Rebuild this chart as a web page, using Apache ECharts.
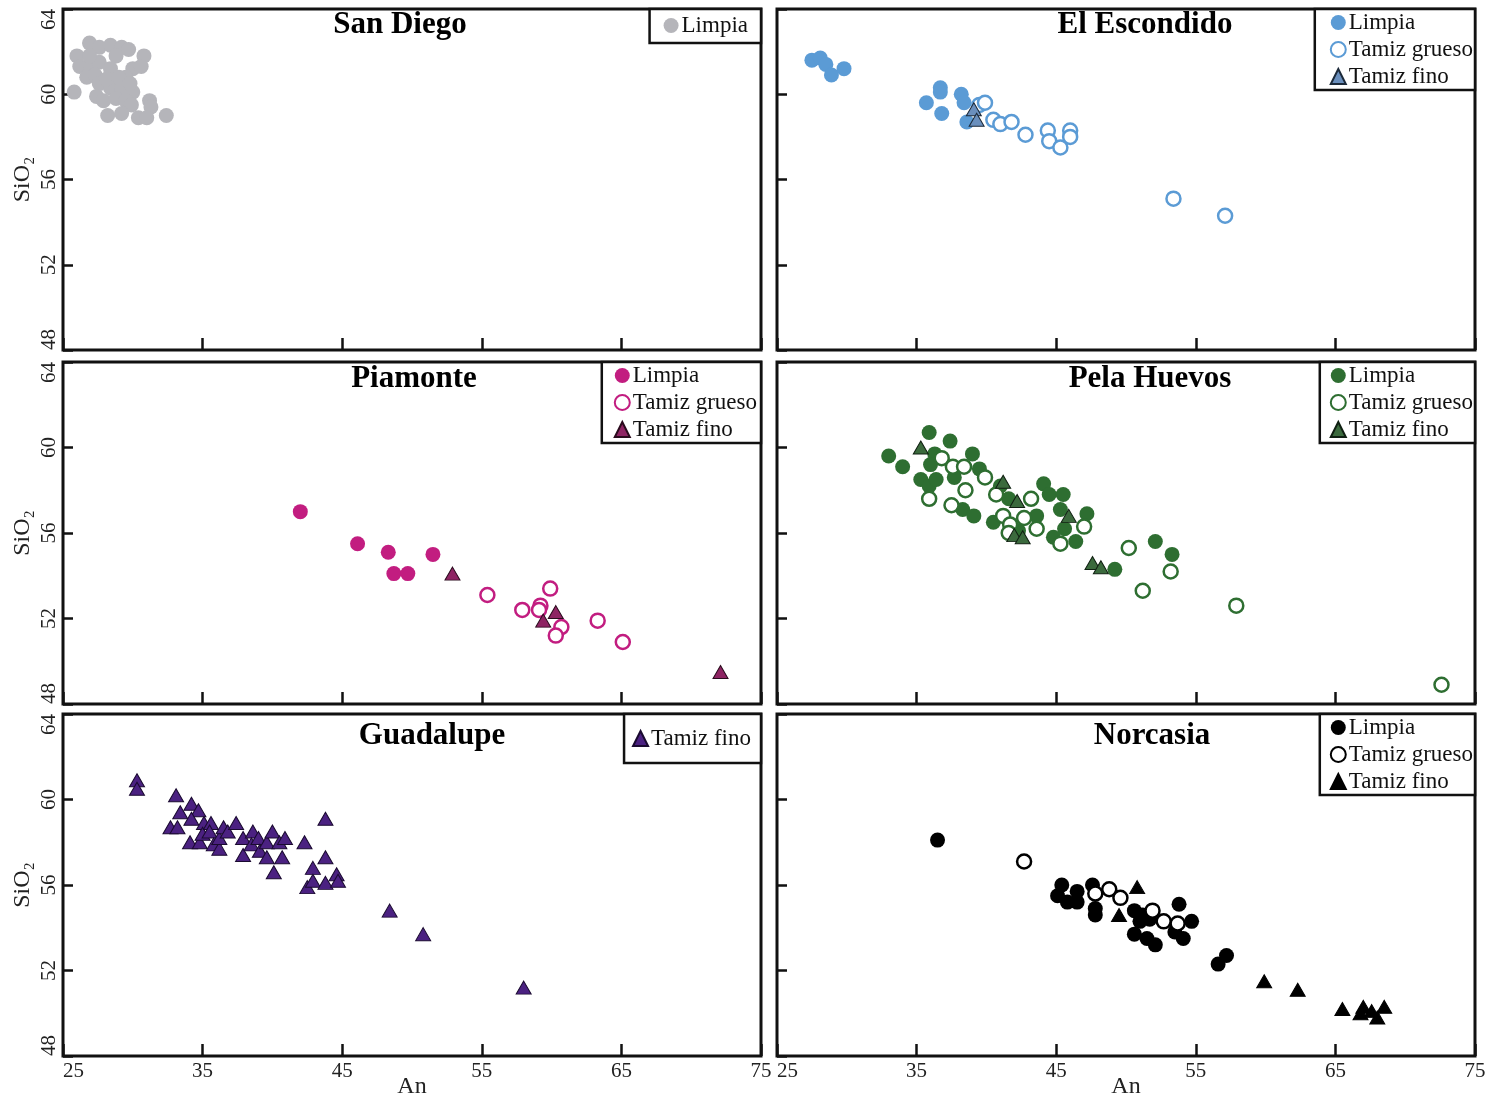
<!DOCTYPE html>
<html>
<head>
<meta charset="utf-8">
<script src="https://cdn.jsdelivr.net/npm/echarts@6/dist/echarts.min.js"></script>
<style>
  html, body { margin: 0; padding: 0; background: #fff; }
  #chart { width: 1490px; height: 1101px; }
</style>
</head>
<body>
<div id="chart"></div>
<script>
// An (%) vs SiO2 (wt%) of plagioclase, by site and sieve fraction
const xTicks = [25, 35, 45, 55, 65, 75];
const yMin = 48, yMax = 64, yStep = 4;

const sanDiegoLimpia = [
  [26.9,62.4],[27.6,62.2],[28.4,62.3],[29.2,62.2],[29.7,62.1],[26.0,61.8],[30.8,61.8],[28.8,61.8],
  [26.2,61.3],[26.9,61.4],[27.6,61.5],[28.4,61.2],[30.0,61.2],[30.6,61.3],[26.7,60.8],[27.3,60.9],
  [29.5,60.8],[25.8,60.1],[27.6,60.5],[27.4,59.9],[28.4,60.3],[29.2,60.3],[30.0,60.1],[27.9,59.7],
  [28.8,59.8],[29.5,59.7],[29.9,59.5],[31.2,59.7],[31.3,59.4],[28.2,59.0],[29.2,59.1],[30.4,58.9],
  [31.0,58.9],[32.4,59.0],[26.9,61.8],[28.1,60.7],[29.0,60.8],[29.8,60.5]
];

const escondidoLimpia = [
  [27.5,61.6],[28.1,61.7],[28.5,61.4],[28.9,60.9],[29.8,61.2],[35.7,59.6],[36.7,60.3],[36.7,60.1],
  [36.8,59.1],[38.2,60.0],[38.4,59.6],[38.6,58.7]
];
const escondidoGrueso = [
  [39.5,59.5],[39.9,59.6],[40.5,58.8],[41.0,58.6],[41.8,58.7],[42.8,58.1],[44.4,58.3],[44.5,57.8],
  [45.3,57.5],[46.0,58.3],[46.0,58.0],[53.4,55.1],[57.1,54.3]
];
const escondidoFino = [[39.1,59.3],[39.3,58.8]];

const piamonteLimpia = [[42.0,57.0],[46.1,55.5],[48.3,55.1],[48.7,54.1],[49.7,54.1],[51.5,55.0]];
const piamonteGrueso = [
  [55.4,53.1],[57.9,52.4],[59.2,52.6],[59.1,52.4],[59.9,53.4],[60.7,51.6],[60.3,51.2],[63.3,51.9],[65.1,50.9]
];
const piamonteFino = [[52.9,54.1],[59.4,51.9],[60.3,52.3],[72.1,49.5]];

const pelaLimpia = [
  [33.0,59.6],[34.0,59.1],[35.9,60.7],[37.4,60.3],[36.3,59.7],[36.0,59.2],[37.7,58.6],[35.3,58.5],
  [35.9,58.2],[36.4,58.5],[39.0,59.7],[39.5,59.0],[38.3,57.1],[39.1,56.8],[40.5,56.5],[41.6,57.6],
  [41.0,58.2],[42.3,56.1],[43.6,56.8],[44.1,58.3],[44.5,57.8],[45.5,57.8],[45.3,57.1],[45.6,56.2],
  [44.8,55.8],[46.4,55.6],[47.2,56.9],[49.2,54.3],[52.1,55.6],[53.3,55.0]
];
const pelaGrueso = [
  [36.8,59.5],[35.9,57.6],[37.6,59.1],[38.4,59.1],[38.5,58.0],[37.5,57.3],[39.9,58.6],[40.7,57.8],
  [41.2,56.8],[41.7,56.4],[41.6,56.0],[42.7,56.7],[43.2,57.6],[43.6,56.2],[45.3,55.5],[47.0,56.3],
  [50.2,55.3],[53.2,54.2],[51.2,53.3],[57.9,52.6],[72.6,48.9]
];
const pelaFino = [[35.3,60.0],[41.2,58.4],[42.2,57.5],[45.9,56.8],[42.0,55.9],[42.6,55.8],[47.6,54.6],[48.2,54.4]];

const guadalupeFino = [
  [30.3,60.9],[30.3,60.5],[33.1,60.2],[33.4,59.4],[32.7,58.7],[33.2,58.7],[34.2,59.8],[34.7,59.5],
  [34.2,59.1],[34.1,58.0],[34.8,58.0],[35.1,58.9],[35.0,58.4],[35.6,58.9],[35.5,58.5],[35.8,57.9],
  [36.2,57.7],[36.2,58.2],[36.5,58.7],[36.8,58.5],[37.4,58.9],[37.9,58.2],[37.9,57.4],[38.6,58.5],
  [38.5,57.9],[39.0,58.2],[39.1,57.6],[39.6,58.0],[39.6,57.3],[40.0,58.5],[40.1,56.6],[40.5,58.0],
  [40.7,57.3],[40.9,58.2],[42.3,58.0],[42.5,55.9],[42.9,56.8],[42.9,56.2],[43.8,59.1],[43.8,57.3],
  [43.8,56.1],[44.6,56.5],[44.7,56.2],[48.4,54.8],[50.8,53.7],[58.0,51.2]
];

const norcasiaLimpia = [
  [36.5,58.1],[45.4,56.0],[45.1,55.5],[45.8,55.2],[46.5,55.7],[46.5,55.2],[47.6,56.0],[47.8,54.9],
  [47.8,54.6],[50.6,54.8],[51.2,54.6],[51.7,54.4],[51.0,54.3],[53.8,55.1],[53.5,53.8],[50.6,53.7],
  [51.5,53.5],[52.1,53.2],[54.1,53.5],[54.7,54.3],[56.6,52.3],[57.2,52.7]
];
const norcasiaGrueso = [[42.7,57.1],[47.8,55.6],[48.8,55.8],[49.6,55.4],[51.9,54.8],[52.7,54.3],[53.7,54.2]];
const norcasiaFino = [
  [49.5,54.6],[50.8,55.9],[59.9,51.5],[62.3,51.1],[65.5,50.2],[67.0,50.3],[66.8,50.0],[67.6,50.1],
  [68.0,49.8],[68.5,50.3]
];

const SERIF = '"Liberation Serif", "Times New Roman", serif';
const INK = '#111';

// colour per site: [point colour, triangle fill, triangle edge]
const palette = {
  gray:    ['#b5b5ba', '#b5b5ba', '#333'],
  blue:    ['#5b9bd5', '#6a8fbd', '#1c2a3a'],
  magenta: ['#c21d80', '#8e2463', '#2a0b1d'],
  green:   ['#2e6e31', '#3b6a3d', '#102012'],
  purple:  ['#4b2181', '#4b2181', '#1a0a30'],
  black:   ['#000000', '#000000', '#000000']
};

const panels = [
  { title: 'San Diego', tx: 400, ty: 25, col: 0, row: 0, pal: 'gray',
    legend: { padding: [5, 13, 6, 14] },
    groups: [['Limpia', 'filled', sanDiegoLimpia]] },
  { title: 'El Escondido', tx: 1145, ty: 25, col: 1, row: 0, pal: 'blue',
    legend: { padding: [2, 2, 2, 15] },
    groups: [['Limpia', 'filled', escondidoLimpia], ['Tamiz grueso', 'hollow', escondidoGrueso], ['Tamiz fino', 'tri', escondidoFino]] },
  { title: 'Piamonte', tx: 414, ty: 379, col: 0, row: 1, pal: 'magenta',
    legend: { padding: [2, 4, 2, 12] },
    groups: [['Limpia', 'filled', piamonteLimpia], ['Tamiz grueso', 'hollow', piamonteGrueso], ['Tamiz fino', 'tri', piamonteFino]] },
  { title: 'Pela Huevos', tx: 1150, ty: 379, col: 1, row: 1, pal: 'green',
    legend: { padding: [2, 2, 2, 10] },
    groups: [['Limpia', 'filled', pelaLimpia], ['Tamiz grueso', 'hollow', pelaGrueso], ['Tamiz fino', 'tri', pelaFino]] },
  { title: 'Guadalupe', tx: 432, ty: 736, col: 0, row: 2, pal: 'purple',
    legend: { padding: [13, 10, 13, 8] },
    groups: [['Tamiz fino', 'tri', guadalupeFino]] },
  { title: 'Norcasia', tx: 1152, ty: 736, col: 1, row: 2, pal: 'black',
    legend: { padding: [2, 2, 2, 10] },
    groups: [['Limpia', 'filled', norcasiaLimpia], ['Tamiz grueso', 'hollow', norcasiaGrueso], ['Tamiz fino', 'tri', norcasiaFino]] }
];

const colLeft = [63, 777];
const plotW = 698;
const rowTop = [9, 362, 714];
const rowH = [341, 342, 342];
const SEP = ' | ';

const grid = [], xAxis = [], yAxis = [], series = [], legend = [], graphic = [];

panels.forEach((p, i) => {
  const left = colLeft[p.col], top = rowTop[p.row];
  const bottomRow = p.row === 2, leftCol = p.col === 0;
  grid.push({ left, top, width: plotW, height: rowH[p.row], outerBoundsMode: 'none',
    show: true, borderColor: INK, borderWidth: 3, backgroundColor: 'transparent' });

  xAxis.push({
    type: 'value', gridIndex: i, min: 25, max: 75,
    axisLine: { show: false },
    splitLine: { show: false },
    axisTick: { show: true, inside: true, length: 12, customValues: xTicks, lineStyle: { color: INK, width: 2.5 } },
    axisLabel: { show: bottomRow, customValues: xTicks, margin: 5, fontSize: 21, fontFamily: SERIF, color: '#222',
      alignMinLabel: 'left' },
    name: bottomRow ? 'An' : '', nameLocation: 'middle', nameGap: 19, nameMoveOverlap: false,
    nameTextStyle: { fontSize: 24, fontFamily: SERIF, color: '#222', verticalAlign: 'top' }
  });

  yAxis.push({
    type: 'value', gridIndex: i, min: yMin, max: yMax, interval: yStep,
    axisLine: { show: false },
    splitLine: { show: false },
    axisTick: { show: true, inside: true, length: 10, lineStyle: { color: INK, width: 2.5 } },
    axisLabel: { show: leftCol, rotate: 90, margin: 3, fontSize: 21, fontFamily: SERIF, color: '#222',
      alignMinLabel: 'left', alignMaxLabel: 'right' },
    name: leftCol ? 'SiO\u2082' : '', nameLocation: 'middle', nameRotate: 90, nameGap: 28, nameMoveOverlap: false,
    nameTextStyle: { fontSize: 24, fontFamily: SERIF, color: '#222' }
  });

  const [pt, triFill, triEdge] = palette[p.pal];
  const names = [];
  p.groups.forEach(([label, kind, data]) => {
    const name = p.title + SEP + label;
    names.push(name);
    const s = { type: 'scatter', name, xAxisIndex: i, yAxisIndex: i, data, clip: false,
      emphasis: { disabled: true } };
    if (kind === 'filled') {
      Object.assign(s, { symbol: 'circle', symbolSize: 15, itemStyle: { color: pt, opacity: 1 } });
    } else if (kind === 'hollow') {
      Object.assign(s, { symbol: 'circle', symbolSize: 14,
        itemStyle: { color: '#fff', borderColor: pt, borderWidth: 2.5, opacity: 1 } });
    } else {
      Object.assign(s, { symbol: 'triangle', symbolSize: [15, 13],
        itemStyle: { color: triFill, borderColor: triEdge, borderWidth: 1, opacity: 1 } });
    }
    series.push(s);
  });

  legend.push({
    data: names, orient: 'vertical', right: 1490 - (left + plotW), top,
    padding: p.legend.padding, itemGap: 4, itemWidth: 15, itemHeight: 15,
    borderColor: INK, borderWidth: 2.5, backgroundColor: '#fff',
    selectedMode: false,
    formatter: n => n.split(SEP)[1],
    textStyle: { fontSize: 23, fontFamily: SERIF, color: '#111', padding: [0, 0, 0, -2] }
  });

  graphic.push({ type: 'text', x: p.tx, y: p.ty, z: 10,
    style: { text: p.title, fill: '#000', align: 'center', verticalAlign: 'middle',
      font: 'bold 31px ' + SERIF } });
});

const chart = echarts.init(document.getElementById('chart'), null, { renderer: 'canvas' });
chart.setOption({
  animation: false,
  backgroundColor: '#fff',
  grid, xAxis, yAxis, series, legend, graphic
});
</script>
</body>
</html>
